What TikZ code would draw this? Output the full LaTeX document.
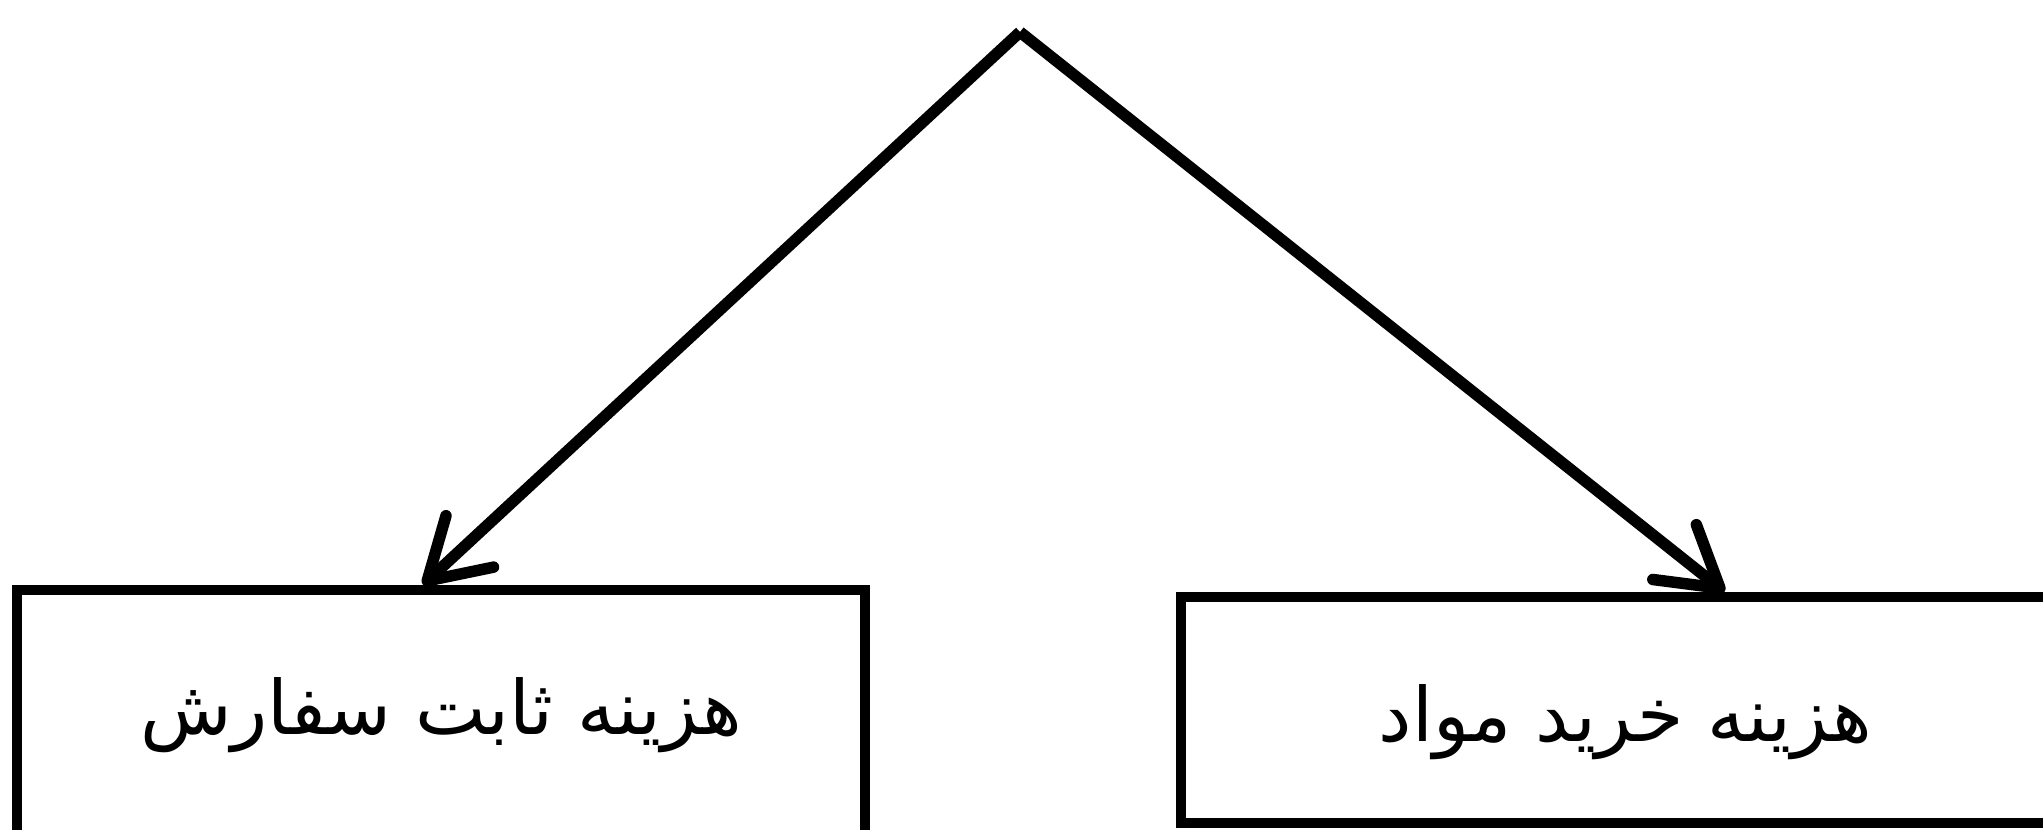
\documentclass[tikz,border=0pt]{standalone}
\usepackage{fontspec}
\newfontfamily\arabicfont[Script=Arabic]{DejaVu Sans}
\TeXXeTstate=1
\usetikzlibrary{arrows.meta}
\begin{document}
\begin{tikzpicture}[x=1pt,y=-1pt,
  box/.style={draw=black,line width=10.5pt,fill=none,inner sep=0pt,
    font=\arabicfont\fontsize{75}{84}\selectfont},
  arr/.style={line width=11.5pt,-{Straight Barb[length=58pt,width=70pt,round]}}]
\useasboundingbox (0,0) rectangle (2043,830);
\clip (0,0) rectangle (2043,830);
\node[box,minimum width=848pt,minimum height=250pt] (lbox) at (441,715) {\beginR هزینه ثابت سفارش\endR};
\node[box,minimum width=889pt,minimum height=226pt,text height=82pt] (rbox) at (1625.5,710) {\beginR هزینه خرید مواد\endR};
\coordinate (apex) at (1020,32);
\draw[arr] (apex) -- ([xshift=-18pt]lbox.north);
\draw[arr] (apex) -- ([xshift=99pt]rbox.north);
\end{tikzpicture}
\end{document}
